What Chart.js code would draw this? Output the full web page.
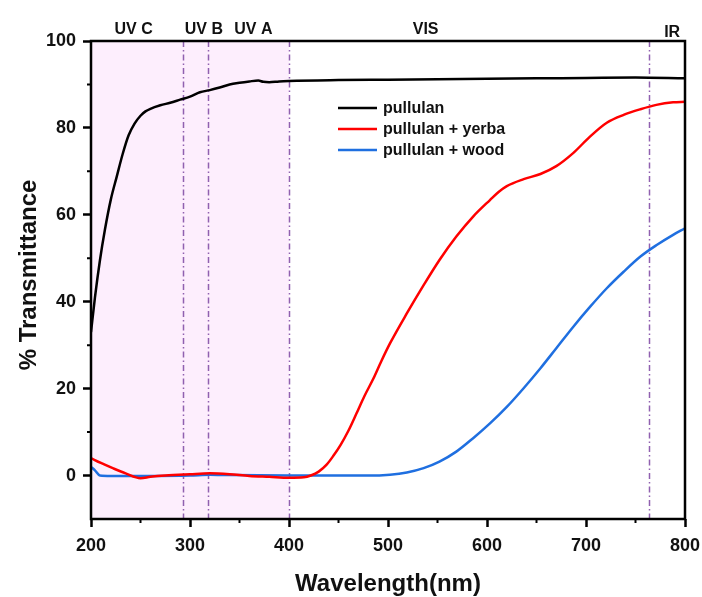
<!DOCTYPE html>
<html>
<head>
<meta charset="utf-8">
<script src="https://cdn.jsdelivr.net/npm/chart.js@4.4.0/dist/chart.umd.min.js"></script>
<style>
  html, body { margin: 0; padding: 0; background: #fff; }
  #chart { display: block; }
</style>
</head>
<body>
<canvas id="chart" width="702" height="597"></canvas>
<script>
// wavelength (nm) / transmittance (%) for each film
const pullulanWl = [200, 204, 209, 214, 220, 226, 232, 238, 244, 250, 255, 260, 270, 280, 290, 300, 310, 320, 330, 340, 350, 360, 369, 374, 380, 390, 400, 450, 500, 550, 600, 650, 700, 750, 800];
const pullulanT  = [33, 41, 49.5, 56.5, 63.5, 68.8, 74, 78.3, 81, 82.8, 83.8, 84.4, 85.2, 85.8, 86.5, 87.2, 88.2, 88.7, 89.3, 90, 90.4, 90.7, 90.9, 90.6, 90.5, 90.7, 90.8, 91, 91.1, 91.2, 91.3, 91.4, 91.5, 91.6, 91.4];

const yerbaWl = [200, 210, 222, 235, 250, 260, 275, 300, 320, 340, 360, 380, 400, 415, 422, 430, 438, 445, 452, 460, 468, 476, 485, 493, 502, 519, 536, 552, 569, 586, 603, 612, 620, 637, 654, 670, 687, 704, 721, 738, 755, 771, 788, 800];
const yerbaT  = [4, 2.9, 1.7, 0.5, -0.6, -0.3, 0, 0.3, 0.5, 0.3, -0.1, -0.3, -0.5, -0.4, 0, 0.9, 2.5, 4.6, 7, 10.3, 14.2, 18.2, 22.2, 26.2, 30.4, 37.3, 43.8, 49.6, 55.0, 59.6, 63.4, 65.3, 66.6, 68.2, 69.4, 71.2, 74.2, 78.0, 81.2, 83.0, 84.3, 85.3, 85.9, 86.0];

const woodWl = [200, 204, 209, 220, 250, 300, 320, 340, 400, 450, 480, 502, 519, 536, 552, 569, 586, 603, 620, 637, 654, 670, 687, 704, 721, 738, 755, 771, 788, 800];
const woodT  = [2, 1.2, 0, -0.1, -0.1, 0, 0.2, 0.1, 0, 0, 0, 0.2, 0.7, 1.7, 3.2, 5.5, 8.6, 12, 15.8, 20.1, 24.7, 29.3, 34.2, 38.8, 43.1, 46.9, 50.4, 53.0, 55.4, 56.9];

const seriesNames = ['pullulan', 'pullulan + yerba', 'pullulan + wood'];
const seriesColors = ['#000000', '#ff0000', '#1f6fe0'];

const xTicks = [200, 300, 400, 500, 600, 700, 800];
const xMinor = [250, 350, 450, 550, 650, 750];
const yTicks = [0, 20, 40, 60, 80, 100];
const yMinor = [10, 30, 50, 70, 90];

// region borders and band labels along the top
const uvBand = [200, 400];
const regionLines = [293, 318, 400, 764];
const bandLabels = [
  { text: 'UV C', x: 243 },
  { text: 'UV B', x: 314 },
  { text: 'UV A', x: 364 },
  { text: 'VIS', x: 538 },
  { text: 'IR', x: 787 }
];

const FONT = '"Liberation Sans", Arial, sans-serif';

const toPoints = (xs, ys) => xs.map((x, i) => ({ x: x, y: ys[i] }));

const decorations = {
  id: 'decorations',
  beforeDatasetsDraw(chart) {
    const { ctx, chartArea: { top, bottom }, scales: { x } } = chart;
    ctx.save();
    ctx.fillStyle = '#fdeefd';
    const x0 = x.getPixelForValue(uvBand[0]);
    const x1 = x.getPixelForValue(uvBand[1]);
    ctx.fillRect(x0, top, x1 - x0, bottom - top);

    ctx.strokeStyle = '#9060b0';
    ctx.lineWidth = 1.5;
    ctx.setLineDash([6, 3, 1.5, 3]);
    regionLines.forEach(v => {
      const px = Math.round(x.getPixelForValue(v)) + 0.5;
      ctx.beginPath();
      ctx.moveTo(px, top);
      ctx.lineTo(px, bottom);
      ctx.stroke();
    });
    ctx.restore();
  },
  afterDraw(chart) {
    const { ctx, chartArea: { top, bottom, left, right }, scales: { x, y } } = chart;
    ctx.save();

    // frame
    ctx.strokeStyle = '#000';
    ctx.lineWidth = 2.5;
    ctx.strokeRect(left, top, right - left, bottom - top);

    // minor ticks
    ctx.lineWidth = 2;
    ctx.beginPath();
    xMinor.forEach(v => {
      const px = x.getPixelForValue(v);
      ctx.moveTo(px, bottom);
      ctx.lineTo(px, bottom + 4);
    });
    yMinor.forEach(v => {
      const py = y.getPixelForValue(v);
      ctx.moveTo(left, py);
      ctx.lineTo(left - 4, py);
    });
    ctx.stroke();

    // band labels
    ctx.fillStyle = '#111';
    ctx.font = 'bold 16px ' + FONT;
    ctx.textAlign = 'center';
    ctx.textBaseline = 'middle';
    bandLabels.forEach(b => {
      ctx.fillText(b.text, x.getPixelForValue(b.x), b.text === 'IR' ? 33 : 30);
    });

    // legend
    ctx.textAlign = 'left';
    chart.data.datasets.forEach((ds, i) => {
      const ly = 108 + i * 21;
      ctx.strokeStyle = ds.borderColor;
      ctx.lineWidth = 2.5;
      ctx.beginPath();
      ctx.moveTo(338, ly);
      ctx.lineTo(377, ly);
      ctx.stroke();
      ctx.fillStyle = '#111';
      ctx.fillText(ds.label, 383, ly + 1);
    });

    // axis titles
    ctx.font = 'bold 24px ' + FONT;
    ctx.textAlign = 'center';
    ctx.fillText('Wavelength(nm)', 388, 584);
    ctx.translate(29, 275);
    ctx.rotate(-Math.PI / 2);
    ctx.fillText('% Transmittance', 0, 0);
    ctx.restore();
  }
};

new Chart(document.getElementById('chart'), {
  type: 'line',
  data: {
    datasets: [
      { label: seriesNames[0], data: toPoints(pullulanWl, pullulanT), borderColor: seriesColors[0] },
      { label: seriesNames[1], data: toPoints(yerbaWl, yerbaT), borderColor: seriesColors[1] },
      { label: seriesNames[2], data: toPoints(woodWl, woodT), borderColor: seriesColors[2] }
    ]
  },
  options: {
    responsive: false,
    animation: false,
    layout: { padding: { top: 41, right: 17, left: 0, bottom: 0 } },
    elements: {
      point: { radius: 0 },
      line: { borderWidth: 2.5, cubicInterpolationMode: 'monotone', fill: false }
    },
    plugins: {
      legend: { display: false },
      tooltip: { enabled: false }
    },
    scales: {
      x: {
        type: 'linear',
        min: 200,
        max: 800,
        afterBuildTicks: s => { s.ticks = xTicks.map(v => ({ value: v })); },
        afterFit: s => { s.height = 78; s.paddingLeft = 0; s.paddingRight = 0; },
        border: { display: false },
        grid: { drawOnChartArea: false, drawTicks: true, tickLength: 8, tickWidth: 2.5, tickColor: '#000' },
        ticks: { color: '#111', padding: 8, maxRotation: 0, font: { family: FONT, size: 18, weight: 'bold' } }
      },
      y: {
        type: 'linear',
        min: -10,
        max: 100,
        afterBuildTicks: s => { s.ticks = yTicks.map(v => ({ value: v })); },
        afterFit: s => { s.width = 91; s.paddingTop = 0; s.paddingBottom = 0; },
        border: { display: false },
        grid: { drawOnChartArea: false, drawTicks: true, tickLength: 8, tickWidth: 2.5, tickColor: '#000' },
        ticks: { color: '#111', padding: 7, font: { family: FONT, size: 18, weight: 'bold' } }
      }
    }
  },
  plugins: [decorations]
});
</script>
</body>
</html>
